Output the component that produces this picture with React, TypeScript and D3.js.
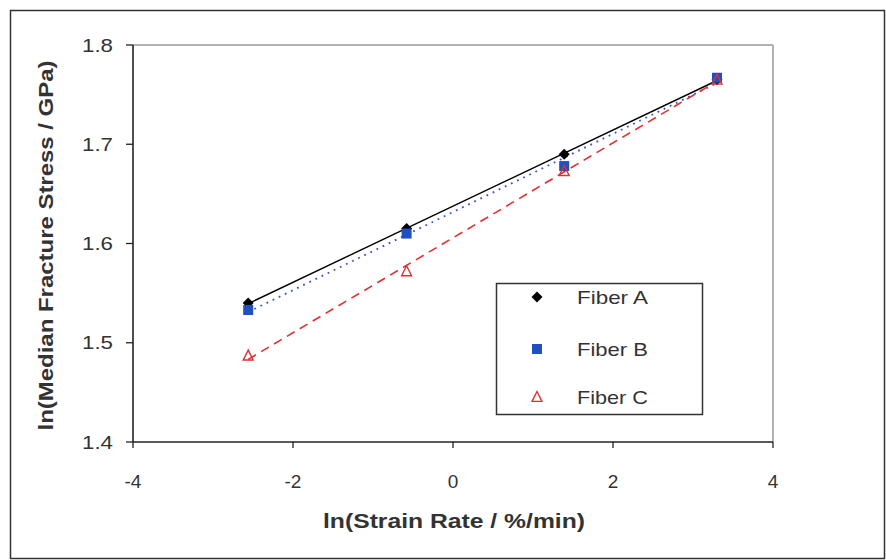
import React from "react";
import * as d3 from "d3";

const strainRate = [-2.56, -0.58, 1.39, 3.3];
const fiberA = [1.54, 1.615, 1.69, 1.765];
const fiberB = [1.533, 1.61, 1.678, 1.767];
const fiberC = [1.487, 1.572, 1.673, 1.765];
const seriesNames = ["Fiber A", "Fiber B", "Fiber C"];
const xTicks = [-4, -2, 0, 2, 4];
const yTicks = [1.4, 1.5, 1.6, 1.7, 1.8];

const W = 886, H = 560;
const L = 133, R = 773, T = 45, B = 442;

function fit(xs: number[], ys: number[]) {
  const mx = d3.mean(xs)!, my = d3.mean(ys)!;
  let num = 0, den = 0;
  xs.forEach((x, i) => { num += (x - mx) * (ys[i] - my); den += (x - mx) ** 2; });
  const m = num / den;
  return (x: number) => my + m * (x - mx);
}

export default function App() {
  const x = d3.scaleLinear().domain([-4, 4]).range([L, R]);
  const y = d3.scaleLinear().domain([1.4, 1.8]).range([B, T]);
  const font = "Liberation Sans, Arial, sans-serif";
  const series = [
    { name: seriesNames[0], vals: fiberA, color: "#000", dash: "", width: 1.4 },
    { name: seriesNames[1], vals: fiberB, color: "#3355cc", dash: "1.8 5", width: 1.8 },
    { name: seriesNames[2], vals: fiberC, color: "#e03030", dash: "9 6", width: 1.6 },
  ];
  const line = d3.line<number>().x((d) => x(d[0] as any)).y((d) => y(d[1] as any));
  const xmin = d3.min(strainRate)!, xmax = d3.max(strainRate)!;

  const marker = (i: number, cx: number, cy: number, key: string) => {
    if (i === 0) {
      const s = 5.5;
      return <path key={key} d={`M${cx},${cy - s}L${cx + s},${cy}L${cx},${cy + s}L${cx - s},${cy}Z`} fill="#000" />;
    }
    if (i === 1) {
      return <rect key={key} x={cx - 5} y={cy - 5} width={10} height={10} fill="#1f4fc0" />;
    }
    const s = 5.5;
    return <path key={key} d={`M${cx},${cy - s}L${cx + s * 0.9},${cy + s * 0.8}L${cx - s * 0.9},${cy + s * 0.8}Z`} fill="none" stroke="#e03030" strokeWidth={1.4} />;
  };

  const legendRows = [297, 349, 397];

  return (
    <svg width={W} height={H} style={{ position: "absolute", left: 0, top: 0, background: "#fff" }} fontFamily={font}>
      <rect x={0} y={0} width={W} height={H} fill="#fff" />
      <rect x={10.5} y={10.5} width={874} height={548} fill="none" stroke="#333" strokeWidth={1.5} />
      <line x1={L} y1={T} x2={R} y2={T} stroke="#999" strokeWidth={1.5} />
      <line x1={R} y1={T} x2={R} y2={B} stroke="#999" strokeWidth={1.5} />
      <line x1={L} y1={T} x2={L} y2={B} stroke="#222" strokeWidth={1.6} />
      <line x1={L} y1={B} x2={R} y2={B} stroke="#222" strokeWidth={1.6} />
      {yTicks.map((t) => (
        <g key={"y" + t}>
          <line x1={L - 7} x2={L} y1={y(t)} y2={y(t)} stroke="#222" strokeWidth={1.3} />
          <text x={113} y={y(t)} dy="0.35em" textAnchor="end" fontSize={19} fill="#333" textLength={31} lengthAdjust="spacingAndGlyphs">{t.toFixed(1)}</text>
        </g>
      ))}
      {xTicks.map((t) => (
        <g key={"x" + t}>
          <line x1={x(t)} x2={x(t)} y1={B} y2={B + 6} stroke="#222" strokeWidth={1.3} />
          <text x={x(t)} y={481} dy="0.35em" textAnchor="middle" fontSize={19} fill="#333">{t}</text>
        </g>
      ))}
      <text x={454} y={521} dy="0.35em" textAnchor="middle" fontSize={20} fontWeight="bold" fill="#333" textLength={262} lengthAdjust="spacingAndGlyphs">ln(Strain Rate / %/min)</text>
      <text transform={`translate(46,${(T + B) / 2 + 2}) rotate(-90)`} dy="0.35em" textAnchor="middle" fontSize={20} fontWeight="bold" fill="#333" textLength={370} lengthAdjust="spacingAndGlyphs">ln(Median Fracture Stress / GPa)</text>
      {series.map((s) => {
        const f = fit(strainRate, s.vals);
        return (
          <path key={"l" + s.name} d={line([[xmin, f(xmin)], [xmax, f(xmax)]] as any)!} stroke={s.color} strokeWidth={s.width} strokeDasharray={s.dash} fill="none" />
        );
      })}
      {series.map((s, i) => s.vals.map((v, j) => marker(i, x(strainRate[j]), y(v), s.name + j)))}
      <rect x={496.5} y={283.5} width={206} height={131} fill="#fff" stroke="#333" strokeWidth={1.5} />
      {series.map((s, i) => (
        <g key={"lg" + s.name}>
          {marker(i, 537, legendRows[i], "lm" + i)}
          <text x={577} y={legendRows[i]} dy="0.35em" fontSize={19} fill="#333" textLength={71} lengthAdjust="spacingAndGlyphs">{s.name}</text>
        </g>
      ))}
    </svg>
  );
}
